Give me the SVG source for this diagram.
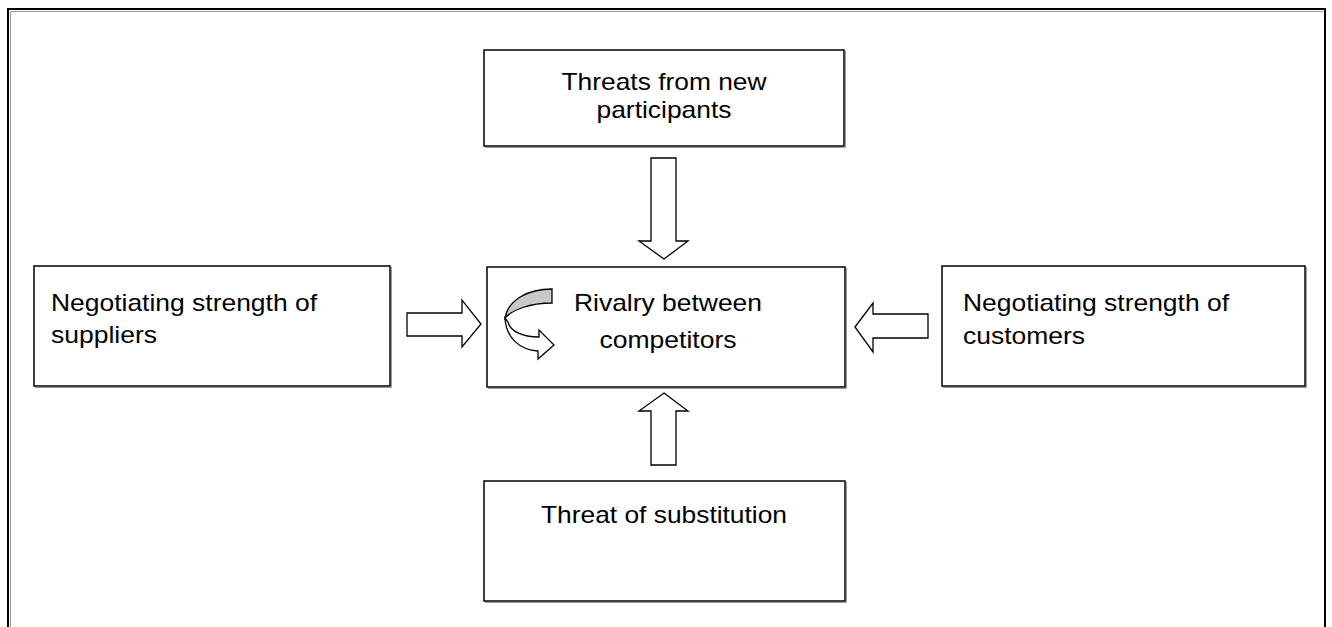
<svg xmlns="http://www.w3.org/2000/svg" width="1332" height="627" viewBox="0 0 1332 627">
  <style>
    .box { fill: #ffffff; stroke: #000000; stroke-width: 1.5; }
    .shadow { fill: none; stroke: #9a9a9a; stroke-width: 1; }
    .lbl { font-family: "Liberation Sans", Arial, sans-serif; font-size: 24px; fill: #000000; }
    .blk { fill: #ffffff; stroke: #000000; stroke-width: 1.3; stroke-linejoin: miter; }
  </style>
  <rect width="1332" height="627" fill="#ffffff"/>
  <!-- outer frame, open at the bottom -->
  <path d="M10.5,627 L10.5,11.5 L1323,11.5" fill="none" stroke="#9a9a9a" stroke-width="1"/>
  <path d="M8,627 L8,9 L1325,9 L1325,627" fill="none" stroke="#000000" stroke-width="2"/>

  <g id="new-participants">
    <path class="shadow" d="M485,147.5 L845.5,147.5 L845.5,51"/>
    <rect class="box" x="484" y="50" width="360" height="96"/>
    <text class="lbl" text-anchor="middle"><tspan x="664" y="90" textLength="205" lengthAdjust="spacingAndGlyphs">Threats from new</tspan></text>
    <text class="lbl" text-anchor="middle"><tspan x="664" y="118" textLength="135" lengthAdjust="spacingAndGlyphs">participants</tspan></text>
  </g>

  <g id="rivalry">
    <path class="shadow" d="M488,388.5 L846.5,388.5 L846.5,268"/>
    <rect class="box" x="487" y="267" width="358" height="120"/>
    <path d="M552,289 C528,289 508,300 505,318 C512,310 530,303 552,303 Z" fill="#c8c8c8" stroke="#000000" stroke-width="1.3"/>
    <path class="blk" d="M505,318 C506,338 520,350 538,351 L538,359 L554,345 L539,330 L539,337 C522,337 510,331 508,322 Z"/>
    <text class="lbl" text-anchor="middle"><tspan x="668" y="311" textLength="188" lengthAdjust="spacingAndGlyphs">Rivalry between</tspan></text>
    <text class="lbl" text-anchor="middle"><tspan x="668" y="348" textLength="137" lengthAdjust="spacingAndGlyphs">competitors</tspan></text>
  </g>

  <g id="suppliers">
    <path class="shadow" d="M35,387.5 L391.5,387.5 L391.5,267"/>
    <rect class="box" x="34" y="266" width="356" height="120"/>
    <text class="lbl"><tspan x="51" y="311" textLength="266" lengthAdjust="spacingAndGlyphs">Negotiating strength of</tspan></text>
    <text class="lbl"><tspan x="51" y="343" textLength="106" lengthAdjust="spacingAndGlyphs">suppliers</tspan></text>
  </g>

  <g id="customers">
    <path class="shadow" d="M943,387.5 L1306.5,387.5 L1306.5,267"/>
    <rect class="box" x="942" y="266" width="363" height="120"/>
    <text class="lbl"><tspan x="963" y="311" textLength="266" lengthAdjust="spacingAndGlyphs">Negotiating strength of</tspan></text>
    <text class="lbl"><tspan x="963" y="344" textLength="122" lengthAdjust="spacingAndGlyphs">customers</tspan></text>
  </g>

  <g id="substitution">
    <path class="shadow" d="M485,602.5 L846.5,602.5 L846.5,482"/>
    <rect class="box" x="484" y="481" width="361" height="120"/>
    <text class="lbl" text-anchor="middle"><tspan x="664" y="523" textLength="246" lengthAdjust="spacingAndGlyphs">Threat of substitution</tspan></text>
  </g>

  <g id="connectors">
    <path class="blk" d="M651,158 L676,158 L676,241 L688,241 L664,259 L639,241 L651,241 Z"/>
    <path class="blk" d="M664,393 L688,411 L676,411 L676,465 L651,465 L651,411 L639,411 Z"/>
    <path class="blk" d="M407,313 L462,313 L462,300 L481,324 L462,347 L462,336 L407,336 Z"/>
    <path class="blk" d="M855,327 L873,303 L873,314 L928,314 L928,338 L873,338 L873,352 Z"/>
  </g>
</svg>
